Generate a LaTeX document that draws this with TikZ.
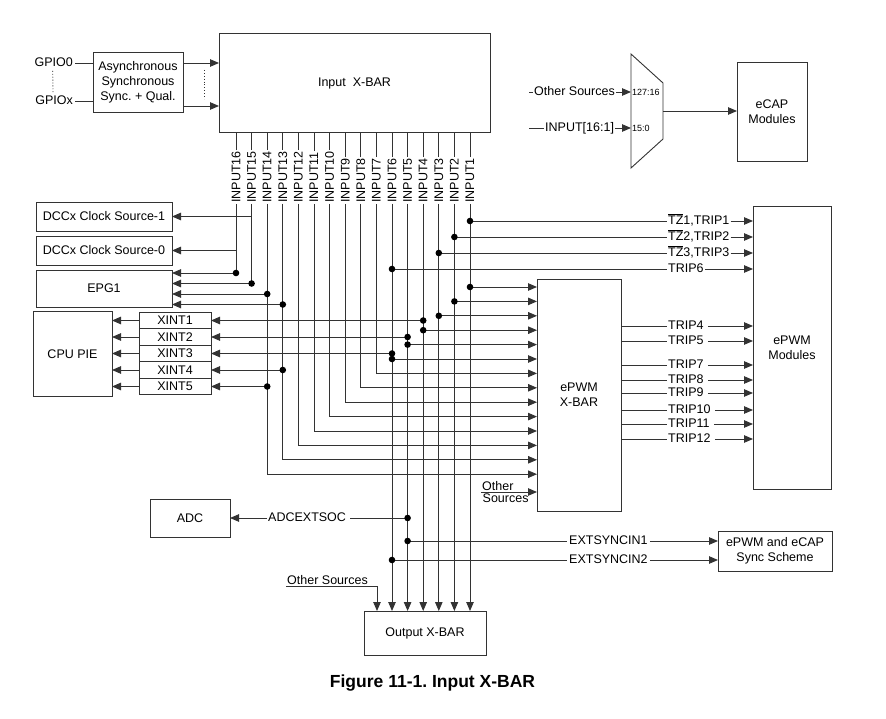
\documentclass[tikz,border=0pt]{standalone}
\usepackage{fontspec}
\setmainfont{Liberation Sans}
\usetikzlibrary{arrows.meta,positioning}
\frenchspacing

\newcommand{\lblsize}{\fontsize{12.5}{15}\selectfont}
\newcommand{\portsize}{\fontsize{9}{10}\selectfont}
\newcommand{\capsize}{\fontsize{17.5}{21}\selectfont}

\begin{document}
\begin{tikzpicture}[
    x=1pt, y=-1pt,
    font=\lblsize,
    wire/.style={line width=0.9pt, draw=black!80},
    arr/.style={wire, -{Triangle[length=9pt,width=7.5pt]}},
    box/.style={draw=black!80, line width=0.9pt, align=center, inner sep=0pt, outer sep=0pt},
    lbl/.style={inner sep=1pt, text height=9pt, text depth=2.5pt},
    inlbl/.style={inner sep=1pt, rotate=90, anchor=west}
]
\useasboundingbox (0,0) rectangle (886,719);

% -------------------------------------------------
% Blocks
% -------------------------------------------------

\node[box, minimum width=90pt,  minimum height=60pt]  (qual)  at (138,82)    {Asynchronous\\Synchronous\\Sync. + Qual.};
\node[box, minimum width=271pt, minimum height=99pt]  (ixbar) at (354.5,83)  {Input\ \ X-BAR};
\node[box, minimum width=70pt,  minimum height=99pt]  (ecap)  at (772,111.5) {eCAP\\Modules};

\node[box, minimum width=136pt, minimum height=29pt]  (dcc1)  at (104,216.5) {DCCx Clock Source-1};
\node[box, minimum width=136pt, minimum height=29pt]  (dcc0)  at (104,250.5) {DCCx Clock Source-0};
\node[box, minimum width=136pt, minimum height=37pt]  (epg)   at (104,288.5) {EPG1};
\node[box, minimum width=79pt,  minimum height=85pt]  (pie)   at (72.5,354)  {CPU PIE};

\node[box, minimum width=72pt, minimum height=16.5pt] (xint1) at (175,320.5) {XINT1};
\node[box, minimum width=72pt, minimum height=16.5pt, below=0pt of xint1] (xint2) {XINT2};
\node[box, minimum width=72pt, minimum height=16.5pt, below=0pt of xint2] (xint3) {XINT3};
\node[box, minimum width=72pt, minimum height=16.5pt, below=0pt of xint3] (xint4) {XINT4};
\node[box, minimum width=72pt, minimum height=16.5pt, below=0pt of xint4] (xint5) {XINT5};

\node[box, minimum width=84pt,  minimum height=232pt] (exbar) at (579,395)   {ePWM\\X-BAR};
\node[box, minimum width=78pt,  minimum height=283pt] (epwm)  at (792,347.5) {ePWM\\Modules};
\node[box, minimum width=80pt,  minimum height=38pt]  (adc)   at (190,518)   {ADC};
\node[box, minimum width=114pt, minimum height=40pt]  (ssch)  at (775,551)   {ePWM and eCAP\\Sync Scheme};
\node[box, minimum width=122pt, minimum height=44pt]  (oxbar) at (425,633)   {Output X-BAR};

% eCAP input mux
\coordinate (m1) at (631,54);
\coordinate (m2) at (663,83);
\coordinate (m3) at (663,139);
\coordinate (m4) at (631,168);
\draw[wire] (m1) -- (m2) -- (m3) -- (m4) -- cycle;

\node[font=\portsize, inner sep=1pt, anchor=west] (p127) at (631,92)  {127:16};
\node[font=\portsize, inner sep=1pt, anchor=west] (p15)  at (631,128) {15:0};

% -------------------------------------------------
% GPIO side
% -------------------------------------------------

\node[lbl, anchor=east, inner sep=2pt] (gpio0) at (75,63)  {GPIO0};
\node[lbl, anchor=east, inner sep=2pt] (gpiox) at (75,101) {GPIOx};

\draw[wire] (gpio0.east) -- (qual.west |- gpio0);
\draw[wire] (gpiox.east) -- (qual.west |- gpiox);
\draw[wire, dotted] ([xshift=-1pt]gpio0.south) -- ([xshift=-1pt]gpiox.north);

\coordinate (qo2) at (183,106);
\draw[arr] (qual.east |- gpio0) -- (ixbar.west |- gpio0);
\draw[arr] (qo2) -- (ixbar.west |- qo2);
\draw[wire, dotted] (204,70) -- (204,99);

% -------------------------------------------------
% eCAP side
% -------------------------------------------------

\coordinate (eos) at (529,92);
\coordinate (ein) at (529,128);
\node[lbl, anchor=west] (eosl) at (533,92)  {Other Sources};
\node[lbl, anchor=west] (einl) at (544,128) {INPUT[16:1]};
\draw[wire] (eos) -- (eosl.west);
\draw[wire] (ein) -- (einl.west);
\draw[arr]  (eosl.east) -- (m1 |- eosl);
\draw[arr]  (einl.east) -- (m1 |- einl);

\coordinate (mout) at (663,111);
\draw[arr] (mout) -- (ecap.west |- mout);

% -------------------------------------------------
% INPUT1..INPUT16 out of the Input X-BAR
% -------------------------------------------------

\node[inlbl] (l1)  at (470,204)   {INPUT1};
\node[inlbl] (l2)  at (454.4,204) {INPUT2};
\node[inlbl] (l3)  at (438.8,204) {INPUT3};
\node[inlbl] (l4)  at (423.2,204) {INPUT4};
\node[inlbl] (l5)  at (407.6,204) {INPUT5};
\node[inlbl] (l6)  at (392,204)   {INPUT6};
\node[inlbl] (l7)  at (376.4,204) {INPUT7};
\node[inlbl] (l8)  at (360.8,204) {INPUT8};
\node[inlbl] (l9)  at (345.2,204) {INPUT9};
\node[inlbl] (l10) at (329.6,204) {INPUT10};
\node[inlbl] (l11) at (314,204)   {INPUT11};
\node[inlbl] (l12) at (298.4,204) {INPUT12};
\node[inlbl] (l13) at (282.8,204) {INPUT13};
\node[inlbl] (l14) at (267.2,204) {INPUT14};
\node[inlbl] (l15) at (251.6,204) {INPUT15};
\node[inlbl] (l16) at (236,204)   {INPUT16};

\draw[wire] (l1.east)  -- (l1.east  |- ixbar.south);
\draw[wire] (l2.east)  -- (l2.east  |- ixbar.south);
\draw[wire] (l3.east)  -- (l3.east  |- ixbar.south);
\draw[wire] (l4.east)  -- (l4.east  |- ixbar.south);
\draw[wire] (l5.east)  -- (l5.east  |- ixbar.south);
\draw[wire] (l6.east)  -- (l6.east  |- ixbar.south);
\draw[wire] (l7.east)  -- (l7.east  |- ixbar.south);
\draw[wire] (l8.east)  -- (l8.east  |- ixbar.south);
\draw[wire] (l9.east)  -- (l9.east  |- ixbar.south);
\draw[wire] (l10.east) -- (l10.east |- ixbar.south);
\draw[wire] (l11.east) -- (l11.east |- ixbar.south);
\draw[wire] (l12.east) -- (l12.east |- ixbar.south);
\draw[wire] (l13.east) -- (l13.east |- ixbar.south);
\draw[wire] (l14.east) -- (l14.east |- ixbar.south);
\draw[wire] (l15.east) -- (l15.east |- ixbar.south);
\draw[wire] (l16.east) -- (l16.east |- ixbar.south);

% -------------------------------------------------
% ePWM X-BAR inputs
% -------------------------------------------------

\coordinate (xp1)  at (537,287);
\coordinate (xp2)  at (537,301.4);
\coordinate (xp3)  at (537,315.8);
\coordinate (xp4)  at (537,330.2);
\coordinate (xp5)  at (537,344.6);
\coordinate (xp6)  at (537,359);
\coordinate (xp7)  at (537,373.4);
\coordinate (xp8)  at (537,387.8);
\coordinate (xp9)  at (537,402.2);
\coordinate (xp10) at (537,416.6);
\coordinate (xp11) at (537,431);
\coordinate (xp12) at (537,445.4);
\coordinate (xp13) at (537,459.8);
\coordinate (xp14) at (537,474.2);

% EPG1 inputs
\coordinate (ep1) at (172,273);
\coordinate (ep2) at (172,283.5);
\coordinate (ep3) at (172,294);
\coordinate (ep4) at (172,304.5);

% -------------------------------------------------
% Trip labels towards the ePWM modules
% -------------------------------------------------

\node[lbl, anchor=west] (trip1)  at (667,221) {$\overline{\mbox{TZ}}$1,TRIP1};
\node[lbl, anchor=west] (trip2)  at (667,237) {$\overline{\mbox{TZ}}$2,TRIP2};
\node[lbl, anchor=west] (trip3)  at (667,253) {$\overline{\mbox{TZ}}$3,TRIP3};
\node[lbl, anchor=west] (trip6)  at (667,269) {TRIP6};
\node[lbl, anchor=west] (trip4)  at (667,326) {TRIP4};
\node[lbl, anchor=west] (trip5)  at (667,341) {TRIP5};
\node[lbl, anchor=west] (trip7)  at (667,365) {TRIP7};
\node[lbl, anchor=west] (trip8)  at (667,380) {TRIP8};
\node[lbl, anchor=west] (trip9)  at (667,393) {TRIP9};
\node[lbl, anchor=west] (trip10) at (667,410) {TRIP10};
\node[lbl, anchor=west] (trip11) at (667,424) {TRIP11};
\node[lbl, anchor=west] (trip12) at (667,439) {TRIP12};

\node[lbl, anchor=west] (adcsoc) at (267,518) {ADCEXTSOC};
\node[lbl, anchor=west, inner sep=2pt] (sync1) at (567,541) {EXTSYNCIN1};
\node[lbl, anchor=west, inner sep=2pt] (sync2) at (567,560) {EXTSYNCIN2};

% -------------------------------------------------
% INPUT1..INPUT6: down to the Output X-BAR
% -------------------------------------------------

\draw[arr] (l1.west) -- (l1.west |- oxbar.north);
\draw[arr] (l2.west) -- (l2.west |- oxbar.north);
\draw[arr] (l3.west) -- (l3.west |- oxbar.north);
\draw[arr] (l4.west) -- (l4.west |- oxbar.north);
\draw[arr] (l5.west) -- (l5.west |- oxbar.north);
\draw[arr] (l6.west) -- (l6.west |- oxbar.north);

\draw[wire] (l1.west |- trip1) -- (trip1.west);
\draw[wire] (l2.west |- trip2) -- (trip2.west);
\draw[wire] (l3.west |- trip3) -- (trip3.west);
\draw[wire] (l6.west |- trip6) -- (trip6.west);

\draw[arr] (l1.west |- xp1) -- (xp1);
\draw[arr] (l2.west |- xp2) -- (xp2);
\draw[arr] (l3.west |- xp3) -- (xp3);
\draw[arr] (l4.west |- xp4) -- (xp4);
\draw[arr] (l5.west |- xp5) -- (xp5);
\draw[arr] (l6.west |- xp6) -- (xp6);

\draw[arr] (l4.west |- xint1) -- (xint1.east);
\draw[arr] (l5.west |- xint2) -- (xint2.east);
\draw[arr] (l6.west |- xint3) -- (xint3.east);

\draw[wire] (l5.west |- adcsoc) -- ([xshift=3pt]adcsoc.east);
\draw[arr]  (adcsoc.west) -- (adc.east);
\draw[wire] (l5.west |- sync1) -- (sync1.west);
\draw[wire] (l6.west |- sync2) -- (sync2.west);
\draw[arr]  (sync1.east) -- (ssch.west |- sync1);
\draw[arr]  (sync2.east) -- (ssch.west |- sync2);

% -------------------------------------------------
% INPUT7..INPUT14: stairs into the ePWM X-BAR
% -------------------------------------------------

\draw[arr] (l7.west)  |- (xp7);
\draw[arr] (l8.west)  |- (xp8);
\draw[arr] (l9.west)  |- (xp9);
\draw[arr] (l10.west) |- (xp10);
\draw[arr] (l11.west) |- (xp11);
\draw[arr] (l12.west) |- (xp12);
\draw[arr] (l13.west) |- (xp13);
\draw[arr] (l14.west) |- (xp14);

\draw[arr] (l13.west |- ep4) -- (ep4);
\draw[arr] (l14.west |- ep3) -- (ep3);
\draw[arr] (l13.west |- xint4) -- (xint4.east);
\draw[arr] (l14.west |- xint5) -- (xint5.east);

% -------------------------------------------------
% INPUT15, INPUT16: DCC and EPG1
% -------------------------------------------------

\draw[arr] (l15.west) |- (ep2);
\draw[arr] (l16.west) |- (ep1);
\draw[arr] (l15.west |- dcc1) -- (dcc1.east);
\draw[arr] (l16.west |- dcc0) -- (dcc0.east);

% XINT to CPU PIE
\draw[arr] (xint1.west) -- (pie.east |- xint1);
\draw[arr] (xint2.west) -- (pie.east |- xint2);
\draw[arr] (xint3.west) -- (pie.east |- xint3);
\draw[arr] (xint4.west) -- (pie.east |- xint4);
\draw[arr] (xint5.west) -- (pie.east |- xint5);

% -------------------------------------------------
% Trips into the ePWM modules
% -------------------------------------------------

\draw[arr] (trip1.east) -- (epwm.west |- trip1);
\draw[arr] (trip2.east) -- (epwm.west |- trip2);
\draw[arr] (trip3.east) -- (epwm.west |- trip3);
\draw[arr] (trip6.east) -- (epwm.west |- trip6);

\draw[wire] (exbar.east |- trip4)  -- (trip4.west);
\draw[wire] (exbar.east |- trip5)  -- (trip5.west);
\draw[wire] (exbar.east |- trip7)  -- (trip7.west);
\draw[wire] (exbar.east |- trip8)  -- (trip8.west);
\draw[wire] (exbar.east |- trip9)  -- (trip9.west);
\draw[wire] (exbar.east |- trip10) -- (trip10.west);
\draw[wire] (exbar.east |- trip11) -- (trip11.west);
\draw[wire] (exbar.east |- trip12) -- (trip12.west);

\draw[arr] ([xshift=3pt]trip4.east)  -- (epwm.west |- trip4);
\draw[arr] ([xshift=3pt]trip5.east)  -- (epwm.west |- trip5);
\draw[arr] ([xshift=3pt]trip7.east)  -- (epwm.west |- trip7);
\draw[arr] ([xshift=3pt]trip8.east)  -- (epwm.west |- trip8);
\draw[arr] ([xshift=3pt]trip9.east)  -- (epwm.west |- trip9);
\draw[arr] ([xshift=3pt]trip10.east) -- (epwm.west |- trip10);
\draw[arr] ([xshift=3pt]trip11.east) -- (epwm.west |- trip11);
\draw[arr] ([xshift=3pt]trip12.east) -- (epwm.west |- trip12);

% -------------------------------------------------
% Other sources
% -------------------------------------------------

\coordinate (xos) at (481,492);
\draw[arr] (xos) -- (exbar.west |- xos);
\node[inner sep=1pt, anchor=south west] (xosa) at (xos) {Other};
\node[inner sep=1.5pt, anchor=north west] (xosb) at (xos) {Sources};

\coordinate (oos)  at (286,586);
\coordinate (oxin) at (377,611);
\draw[arr] (oos) -| (oxin);
\node[inner sep=1pt, anchor=south west] (oosl) at (oos) {Other Sources};

% -------------------------------------------------
% Junction dots
% -------------------------------------------------

\fill (l1.west |- trip1) circle (3.3pt);
\fill (l2.west |- trip2) circle (3.3pt);
\fill (l3.west |- trip3) circle (3.3pt);
\fill (l6.west |- trip6) circle (3.3pt);
\fill (l1.west |- xp1) circle (3.3pt);
\fill (l2.west |- xp2) circle (3.3pt);
\fill (l3.west |- xp3) circle (3.3pt);
\fill (l4.west |- xp4) circle (3.3pt);
\fill (l5.west |- xp5) circle (3.3pt);
\fill (l6.west |- xp6) circle (3.3pt);
\fill (l4.west |- xint1) circle (3.3pt);
\fill (l5.west |- xint2) circle (3.3pt);
\fill (l6.west |- xint3) circle (3.3pt);
\fill (l13.west |- xint4) circle (3.3pt);
\fill (l14.west |- xint5) circle (3.3pt);
\fill (l13.west |- ep4) circle (3.3pt);
\fill (l14.west |- ep3) circle (3.3pt);
\fill (l15.west |- ep2) circle (3.3pt);
\fill (l16.west |- ep1) circle (3.3pt);
\fill (l5.west |- adcsoc) circle (3.3pt);
\fill (l5.west |- sync1) circle (3.3pt);
\fill (l6.west |- sync2) circle (3.3pt);

% caption
\node[font=\capsize\bfseries] (cap) at (432.5,683) {Figure 11-1. Input X-BAR};
\end{tikzpicture}
\end{document}
